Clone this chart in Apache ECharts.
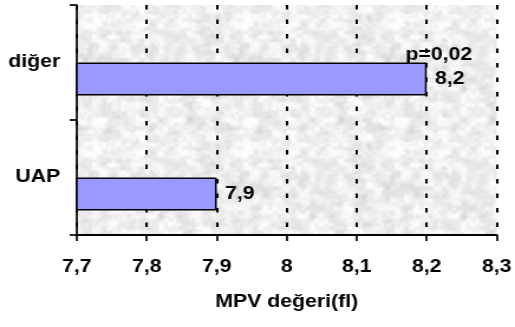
<!DOCTYPE html>
<html>
<head>
<meta charset="utf-8">
<script src="https://cdn.jsdelivr.net/npm/echarts@6/dist/echarts.min.js"></script>
<style>
  html, body { margin: 0; padding: 0; background: #fff; overflow: hidden; }
  #wrap { width: 515px; height: 327px; overflow: hidden; }
  /* the chart is drawn slightly narrower and widened, giving the broad lettering */
  #chart { width: 436px; height: 327px; transform: scaleX(1.18119); transform-origin: 0 0; }
</style>
</head>
<body>
<div id="wrap"><div id="chart"></div></div>
<script>
// ---- data ----
const categories = ['UAP', 'diğer'];
const mpvValues = [7.9, 8.2];
const pNotes = ['', 'p=0,02'];
const xTicks = [7.7, 7.8, 7.9, 8.0, 8.1, 8.2, 8.3];
const xAxisTitle = 'MPV değeri(fl)';

const FONT = "'Liberation Sans', Arial, sans-serif";
const FS = 18;
const comma = v => String(+v.toFixed(2)).replace('.', ',');

// granite-like grey fill for the plot area (seeded, tileable value noise)
function graniteTexture(size) {
  let seed = 987654321;
  const rnd = () => { seed = (seed * 1664525 + 1013904223) >>> 0; return seed / 4294967296; };
  function layer(cell) {
    const n = size / cell;
    const g = [];
    for (let i = 0; i < n * n; i++) g.push(rnd());
    const at = (i, j) => g[((j % n) + n) % n * n + ((i % n) + n) % n];
    return (x, y) => {
      const fx = x / cell, fy = y / cell;
      const x0 = Math.floor(fx), y0 = Math.floor(fy);
      let tx = fx - x0, ty = fy - y0;
      tx = tx * tx * (3 - 2 * tx); ty = ty * ty * (3 - 2 * ty);
      const a = at(x0, y0), b = at(x0 + 1, y0), c = at(x0, y0 + 1), d = at(x0 + 1, y0 + 1);
      const top = a + (b - a) * tx, bot = c + (d - c) * tx;
      return top + (bot - top) * ty;
    };
  }
  const l1 = layer(8), l2 = layer(4), l3 = layer(2);
  const cv = document.createElement('canvas');
  cv.width = cv.height = size;
  const ctx = cv.getContext('2d');
  const img = ctx.createImageData(size, size);
  for (let y = 0; y < size; y++) {
    for (let x = 0; x < size; x++) {
      const v = 0.45 * l1(x, y) + 0.35 * l2(x, y) + 0.2 * l3(x, y);
      const g = Math.max(212, Math.min(252, Math.round(238 + (v - 0.5) * 60)));
      const k = (y * size + x) * 4;
      img.data[k] = img.data[k + 1] = img.data[k + 2] = g;
      img.data[k + 3] = 255;
    }
  }
  ctx.putImageData(img, 0, 0);
  return cv;
}

const barData = mpvValues.map((v, i) => {
  if (!pNotes[i]) return v;
  return {
    value: v,
    label: {
      offset: [-25, -12],
      formatter: '{p|' + pNotes[i] + '}\n{v|' + comma(v) + '}',
      rich: {
        p: { fontFamily: FONT, fontSize: FS, fontWeight: 'bold', color: '#000', lineHeight: 24 },
        v: { fontFamily: FONT, fontSize: FS, fontWeight: 'bold', color: '#000', lineHeight: 24, padding: [0, 0, 0, 25] }
      }
    }
  };
});

const chart = echarts.init(document.getElementById('chart'), null, { renderer: 'canvas' });
chart.setOption({
  animation: false,
  backgroundColor: '#fff',
  textStyle: { fontFamily: FONT },
  grid: {
    left: 65, right: 13, top: 5, bottom: 92,
    show: true, borderWidth: 0,
    backgroundColor: { image: graniteTexture(128), repeat: 'repeat' }
  },
  xAxis: {
    type: 'value',
    min: xTicks[0], max: xTicks[xTicks.length - 1], interval: 0.1,
    name: xAxisTitle, nameLocation: 'middle', nameGap: 58,
    nameTextStyle: { color: '#000', fontFamily: FONT, fontSize: FS, fontWeight: 'bold' },
    axisLine: { show: true, lineStyle: { color: '#000', width: 2 } },
    axisTick: { show: true, length: 6, lineStyle: { color: '#000', width: 1.7 } },
    axisLabel: { color: '#000', fontFamily: FONT, fontSize: FS, fontWeight: 'bold', margin: 23,
      formatter: v => comma(v) },
    splitLine: { show: true, lineStyle: { color: '#000', width: 2, type: [4.5, 10] } }
  },
  yAxis: {
    type: 'category',
    data: categories,
    axisLine: { show: true, lineStyle: { color: '#000', width: 1.7 } },
    axisTick: { show: true, length: 6, lineStyle: { color: '#000', width: 1.7 } },
    axisLabel: { color: '#000', fontFamily: FONT, fontSize: FS, fontWeight: 'bold', margin: 14 },
    splitLine: { show: false }
  },
  series: [
    {
      // empty companion slot: keeps each bar in the lower half of its band
      type: 'bar', name: 'boş', silent: true,
      data: categories.map(() => null),
      barWidth: 33, barGap: '0%'
    },
    {
      type: 'bar', name: 'MPV',
      data: barData,
      barWidth: 33, barGap: '0%',
      itemStyle: { color: '#9999ff', borderColor: '#000', borderWidth: 1.5 },
      label: {
        show: true, position: 'right', distance: 7,
        color: '#000', fontFamily: FONT, fontSize: FS, fontWeight: 'bold',
        formatter: p => comma(p.value)
      }
    }
  ]
});
</script>
</body>
</html>
